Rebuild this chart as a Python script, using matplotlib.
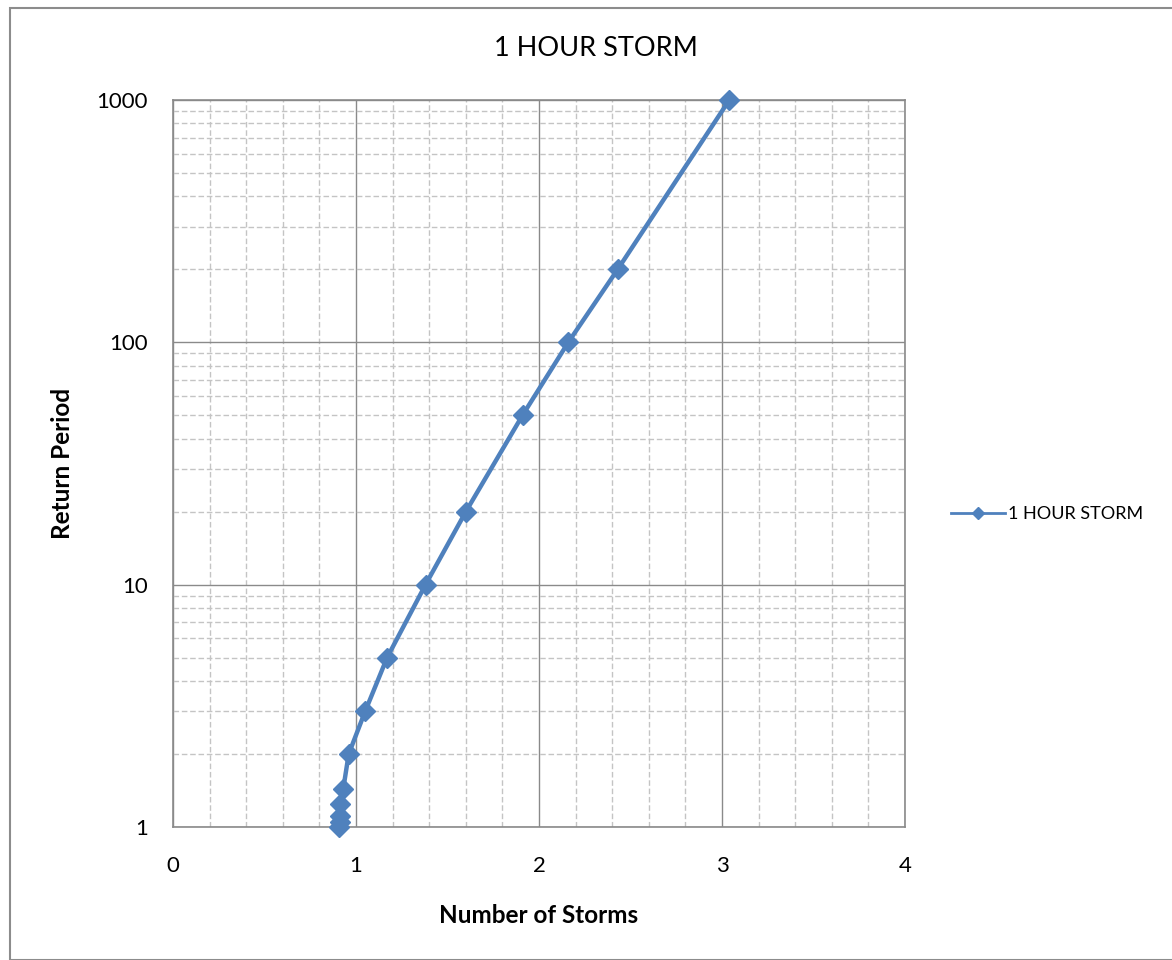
import matplotlib
matplotlib.use("Agg")
import matplotlib.pyplot as plt
from matplotlib.ticker import FixedLocator, NullFormatter, FixedFormatter
from matplotlib.patches import Rectangle
from matplotlib.lines import Line2D

# Storm count versus return period for the 1 hour storm
number_of_storms = [0.905, 0.91, 0.91, 0.915, 0.93, 0.96, 1.05, 1.17, 1.38, 1.60, 1.91, 2.16, 2.43, 3.04]
return_period = [1.0, 1.05, 1.11, 1.25, 1.43, 2, 3, 5, 10, 20, 50, 100, 200, 1000]
series_name = "1 HOUR STORM"
y_ticks = [1, 10, 100, 1000]
y_tick_labels = ["1", "10", "100", "1000"]
x_ticks = [0, 1, 2, 3, 4]

plt.rcParams["font.family"] = ["Lato", "DejaVu Sans"]

fig = plt.figure(figsize=(11.72, 9.6), dpi=100)
fig.patches.append(Rectangle((10 / 1172, 0), 1.0, 1 - 8 / 960, transform=fig.transFigure,
                             fill=False, edgecolor="#8c8c8c", linewidth=1.5))

ax = fig.add_axes([173 / 1172, 1 - 827 / 960, 732 / 1172, 727 / 960])
ax.set_yscale("log")
ax.set_xlim(0, 4)
ax.set_ylim(1, 1000)

line_color = "#4F81BD"
ax.plot(number_of_storms, return_period, color=line_color, linewidth=3.2,
        marker="D", markersize=10, markeredgecolor=line_color, markerfacecolor=line_color,
        zorder=5, clip_on=False)

ax.xaxis.set_major_locator(FixedLocator(x_ticks))
ax.xaxis.set_minor_locator(FixedLocator([i * 0.2 for i in range(21) if i % 5 != 0]))
ax.yaxis.set_major_locator(FixedLocator(y_ticks))
ax.yaxis.set_major_formatter(FixedFormatter(y_tick_labels))
minor_y = [m * 10 ** e for e in range(3) for m in range(2, 10)]
ax.yaxis.set_minor_locator(FixedLocator(minor_y))
ax.yaxis.set_minor_formatter(NullFormatter())

ax.grid(which="major", color="#8a8a8a", linewidth=1.0, linestyle="-")
ax.grid(which="minor", color="#c4c4c4", linewidth=1.0, linestyle=(0, (4, 2)))
ax.set_axisbelow(True)
for s in ax.spines.values():
    s.set_color("#8a8a8a")
    s.set_linewidth(1.2)

ax.tick_params(which="both", length=0)
ax.tick_params(axis="x", labelsize=16, pad=21)
ax.tick_params(axis="y", labelsize=16, pad=18)

ax.set_xlabel("Number of Storms", fontsize=17.5, fontweight="bold", labelpad=20)
ax.set_ylabel("Return Period", fontsize=17.5, fontweight="bold", labelpad=16)
fig.text(596 / 1172, 1 - 48 / 960, "1 HOUR STORM", ha="center", va="center", fontsize=19.5)

handle = Line2D([], [], color=line_color, linewidth=2, marker="D", markersize=6,
                markeredgecolor=line_color, markerfacecolor=line_color)
ax.legend([handle], [series_name], loc="center left", bbox_to_anchor=(1.04, 0.43),
          frameon=False, fontsize=13, handlelength=3.0, handletextpad=0.2)

fig.savefig("out.png", dpi=100)
